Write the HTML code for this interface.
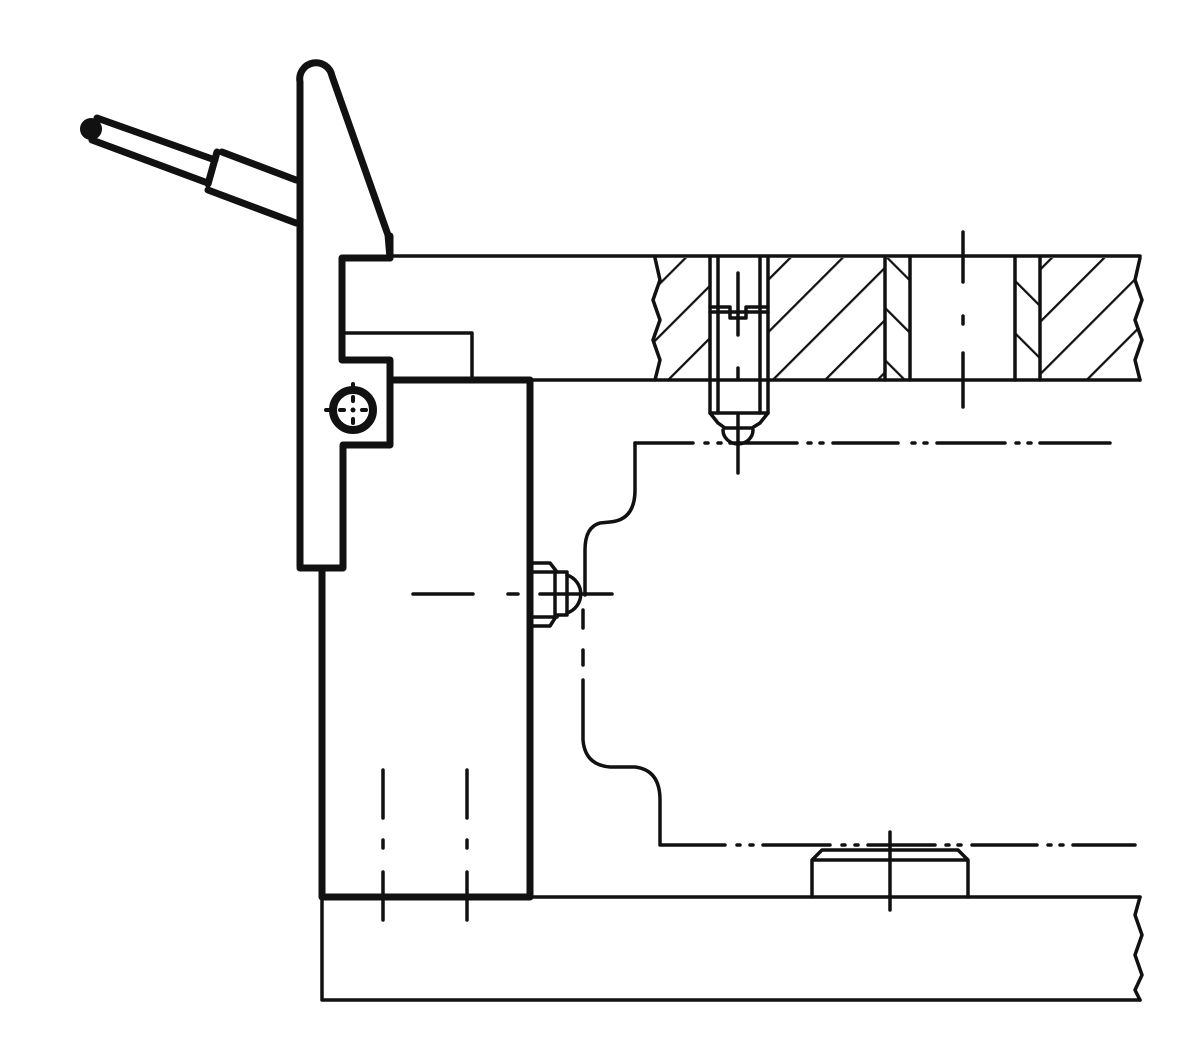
<!DOCTYPE html>
<html><head><meta charset="utf-8"><style>html,body{margin:0;padding:0;background:#fff}svg{display:block}</style></head>
<body>
<svg width="1200" height="1064" viewBox="0 0 1200 1064" xmlns="http://www.w3.org/2000/svg" fill="none" stroke="#111" stroke-linecap="round" stroke-linejoin="round">
<defs>
<pattern id="h" patternUnits="userSpaceOnUse" width="37" height="37" patternTransform="rotate(45)"><line x1="0" y1="0" x2="0" y2="37" stroke="#111" stroke-width="4.5"/></pattern>
<pattern id="h2" patternUnits="userSpaceOnUse" width="37" height="37" patternTransform="rotate(-45)"><line x1="0" y1="0" x2="0" y2="37" stroke="#111" stroke-width="4.5"/></pattern>
</defs>
<g stroke="none">
<path d="M655,258 L710,258 L710,380 L655,380 L660,360 L653,340 L660,320 L653,300 L660,280 Z" fill="url(#h)"/>
<rect x="768" y="258" width="117" height="122" fill="url(#h)"/>
<rect x="885" y="258" width="25" height="122" fill="url(#h2)"/>
<rect x="1015" y="258" width="25" height="122" fill="url(#h2)"/>
<path d="M1040,258 L1140,258 L1135,280 L1142,300 L1135,320 L1142,340 L1135,360 L1140,380 L1040,380 Z" fill="url(#h)"/>
</g>
<g stroke-width="3.5">
<line x1="390" y1="256" x2="1140" y2="256"/>
<line x1="530" y1="380" x2="1140" y2="380"/>
<path d="M655,258 L660,280 L653,300 L660,320 L653,340 L660,360 L655,380"/>
<path d="M1140,258 L1135,280 L1142,300 L1135,320 L1142,340 L1135,360 L1140,380"/>
<line x1="885" y1="258" x2="885" y2="380"/><line x1="910" y1="258" x2="910" y2="380"/>
<line x1="1015" y1="258" x2="1015" y2="380"/><line x1="1040" y1="258" x2="1040" y2="380"/>
<path d="M710,258 L710,413 L718,423 L725,428 L752,428 L760,423 L768,413 L768,258"/>
<line x1="718" y1="258" x2="718" y2="413"/><line x1="760" y1="258" x2="760" y2="413"/>
<path d="M710,307 L730,307 L730,318 L746,318 L746,307 L768,307"/><line x1="710" y1="312" x2="768" y2="312"/>
<line x1="710" y1="413" x2="768" y2="413"/>
<path d="M723,430 A15,14 0 0 0 753,430"/>
<line x1="738" y1="273" x2="738" y2="335"/><line x1="738" y1="368" x2="738" y2="378"/><line x1="738" y1="415" x2="738" y2="473"/>
<line x1="963" y1="232" x2="963" y2="282"/><line x1="963" y1="316" x2="963" y2="324"/><line x1="963" y1="353" x2="963" y2="407"/>
<path d="M635,443 L693,443 M705,443 L708,443 M718,443 L721,443 M730,443 L797,443 M808,443 L811,443 M820,443 L823,443 M833,443 L898,443 M912,443 L915,443 M924,443 L927,443 M937,443 L1005,443 M1016,443 L1019,443 M1028,443 L1031,443 M1040,443 L1110,443"/>
<path d="M635,443 L635,490 Q635,520 610,522 L600,523 Q585,527 585,550 L585,595"/>
<path d="M583,610 L583,628 M583,650 L583,665 M583,680 L583,740 Q585,765 610,767 L635,767 Q660,770 660,800 L660,845 L725,845 M737,845 L740,845 M750,845 L753,845 M763,845 L830,845 M842,845 L845,845 M855,845 L858,845 M868,845 L935,845 M946,845 L949,845 M958,845 L961,845 M972,845 L1037,845 M1048,845 L1051,845 M1060,845 L1063,845 M1073,845 L1135,845"/>
<line x1="530" y1="897" x2="1140" y2="897"/>
<path d="M322,897 L322,1000 L1140,1000"/>
<path d="M1140,897 L1135,915 L1142,935 L1135,955 L1142,975 L1135,990 L1140,1000"/>
<path d="M812,897 L812,860 L822,850 L958,850 L968,860 L968,897 M812,860 L968,860"/>
<line x1="890" y1="832" x2="890" y2="910"/>
<path d="M345,333 L472,333 L472,378"/>
<path d="M383,770 L383,818 M383,840 L383,848 M383,872 L383,920 M467,770 L467,818 M467,840 L467,848 M467,872 L467,920"/>
<path d="M413,594 L473,594 M508,594 L518,594 M540,594 L612,594"/>
<path d="M533,563 L550,563 L557,572 L567,572 L567,615 L557,615 L550,626 L533,626"/>
<line x1="533" y1="572" x2="557" y2="572"/><line x1="533" y1="617" x2="557" y2="617"/><line x1="555" y1="572" x2="555" y2="617"/>
<path d="M567,575 A20,20 0 0 1 567,613"/>
</g>
<g stroke-width="7">
<path d="M300,566 L300,82 A16,16 0 0 1 332,76 L388,235 L390,258"/>
<path d="M390,236 L390,258 L342,258 L342,360 L390,360 L390,445 L343,445 L343,568 L300,568"/>
<path d="M322,568 L322,897 L530,897 L530,380 L393,380"/>
<path d="M97,118 L215,160 M92,140 L205,182"/>
<path d="M217,152 L208,184"/>
<line x1="222" y1="152" x2="296" y2="180"/><line x1="208" y1="190" x2="296" y2="223"/>
</g>
<circle cx="353" cy="410" r="20" stroke-width="8"/>
<circle cx="91" cy="129" r="11" fill="#111" stroke="none"/>
<g stroke-width="4"><path d="M326,410 L331,410 M353,384 L353,388 M340,410 L344,410 M362,410 L366,410 M353,397 L353,401 M353,419 L353,423"/></g>
<circle cx="353" cy="410" r="2.5" fill="#111" stroke="none"/>
</svg>
</body></html>
